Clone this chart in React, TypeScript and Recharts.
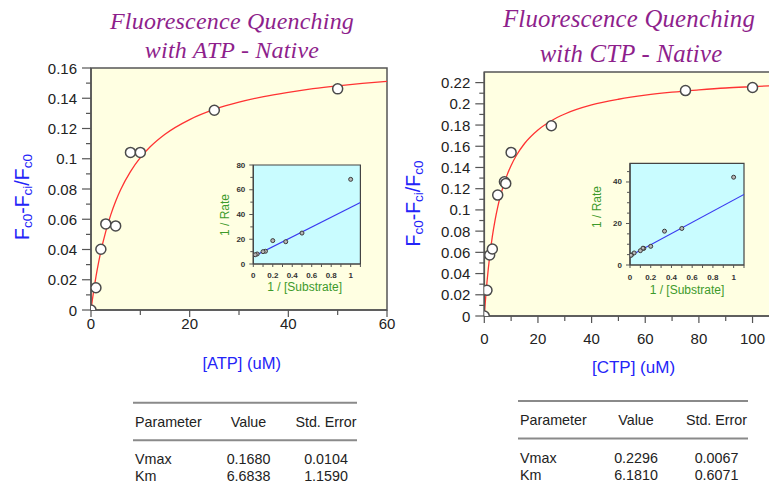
import React from 'react';
import { ComposedChart, Line, Scatter, XAxis, YAxis, CartesianGrid, ReferenceArea } from 'recharts';

// ---------- data: ATP ----------
const atpConc = [0, 1, 2, 3, 5, 8, 10, 25, 50];
const atpQuench = [0, 0.0147, 0.0402, 0.0569, 0.0556, 0.1042, 0.1042, 0.1321, 0.1462];
const atpFitX = [0, 0.25, 0.5, 1, 1.5, 2, 3, 4, 5, 6, 8, 10, 12, 15, 20, 25, 30, 35, 40, 45, 50, 55, 60];
const atpFitY = [0, 0.0061, 0.0117, 0.0219, 0.0308, 0.0387, 0.052, 0.0629, 0.0719, 0.0795, 0.0915, 0.1007, 0.1079, 0.1162, 0.1259, 0.1326, 0.1374, 0.1411, 0.1439, 0.1463, 0.1482, 0.1498, 0.1512];
const atpInvS = [1, 0.5, 0.333, 0.2, 0.125, 0.1, 0.04, 0.02];
const atpInvV = [68.4, 25.0, 18.0, 18.9, 10.3, 10.0, 8.1, 7.5];
const atpLbX = [0, 1.1];
const atpLbY = [6.0, 49.7];

// ---------- data: CTP ----------
const ctpConc = [0, 1, 2, 3, 5, 7.5, 8, 10, 25, 75, 100];
const ctpQuench = [0, 0.0242, 0.0575, 0.0631, 0.114, 0.1265, 0.125, 0.1542, 0.1793, 0.2125, 0.2154];
const ctpFitX = [0, 0.25, 0.5, 1, 1.5, 2, 3, 4, 5, 6, 8, 10, 12, 15, 20, 25, 30, 40, 50, 60, 70, 80, 90, 100, 108];
const ctpFitY = [0, 0.0089, 0.0172, 0.032, 0.0448, 0.0561, 0.075, 0.0902, 0.1027, 0.1131, 0.1295, 0.1419, 0.1515, 0.1626, 0.1754, 0.1841, 0.1904, 0.1989, 0.2043, 0.2082, 0.211, 0.2131, 0.2149, 0.2162, 0.2172];
const ctpInvS = [1, 0.5, 0.333, 0.2, 0.133, 0.125, 0.1, 0.04, 0.0133, 0.01];
const ctpInvV = [42.3, 17.6, 16.3, 9.0, 8.0, 8.1, 6.9, 5.8, 4.8, 4.7];
const ctpLbX = [0, 1.1];
const ctpLbY = [4.4, 34.0];

// ---------- ticks ----------
const atpYTicks = [0, 0.01, 0.02, 0.03, 0.04, 0.05, 0.06, 0.07, 0.08, 0.09, 0.1, 0.11, 0.12, 0.13, 0.14, 0.15, 0.16];
const atpXTicks = [0, 10, 20, 30, 40, 50, 60];
const ctpYTicks = [0, 0.01, 0.02, 0.03, 0.04, 0.05, 0.06, 0.07, 0.08, 0.09, 0.1, 0.11, 0.12, 0.13, 0.14, 0.15, 0.16, 0.17, 0.18, 0.19, 0.2, 0.21, 0.22];
const ctpXTicks = [0, 10, 20, 30, 40, 50, 60, 70, 80, 90, 100];
const insetXTicks = [0, 0.1, 0.2, 0.3, 0.4, 0.5, 0.6, 0.7, 0.8, 0.9, 1, 1.1];
const atpInsetYTicks = [0, 10, 20, 30, 40, 50, 60, 70, 80];
const ctpInsetYTicks = [0, 5, 10, 15, 20, 25, 30, 35, 40, 45];

// ---------- table ----------
const tableHeader = ['Parameter', 'Value', 'Std. Error'];
const atpParams = ['Vmax', 'Km'];
const atpValues = ['0.1680', '6.6838'];
const atpErrors = ['0.0104', '1.1590'];
const ctpParams = ['Vmax', 'Km'];
const ctpValues = ['0.2296', '6.1810'];
const ctpErrors = ['0.0067', '0.6071'];

const zip = (xs: number[], ys: number[]) => xs.map((x, i) => ({ x, y: ys[i] }));

const SANS = "Arial, 'Liberation Sans', Helvetica, sans-serif";
const SERIF = "'Times New Roman', 'Liberation Serif', serif";
const AXIS = '#555';
const YELLOW = '#FFFFE2';
const CYAN = '#C9FCFF';
const BLUE = '#2424F8';
const GREEN = '#3D9A2B';
const PURPLE = '#8E1F8C';
const TXT = '#222';

type TickCfg = { step: number; major: number; minor: number; gap: number; size: number; bold?: boolean; digits: number; sw: number; color: string };

const isMajorVal = (v: number, step: number) => Math.abs(v / step - Math.round(v / step)) < 1e-6;
const fmt = (v: number, d: number) => (v === 0 ? '0' : String(parseFloat(v.toFixed(d))));

const makeYTick = (c: TickCfg) => (p: any) => {
  const v = p.payload.value;
  const major = isMajorVal(v, c.step);
  const len = major ? c.major : c.minor;
  return (
    <g>
      <line x1={p.x - len} x2={p.x} y1={p.y} y2={p.y} stroke={AXIS} strokeWidth={c.sw} />
      {major && (
        <text x={p.x - c.major - c.gap} y={p.y} textAnchor="end" dominantBaseline="central" fontFamily={SANS} fontSize={c.size} fontWeight={c.bold ? 'bold' : 'normal'} fill={c.color}>
          {fmt(v, c.digits)}
        </text>
      )}
    </g>
  );
};

const makeXTick = (c: TickCfg & { offset: number }) => (p: any) => {
  const v = p.payload.value;
  const major = isMajorVal(v, c.step);
  const len = major ? c.major : c.minor;
  return (
    <g>
      <line x1={p.x} x2={p.x} y1={p.y} y2={p.y + len} stroke={AXIS} strokeWidth={c.sw} />
      {major && (
        <text x={p.x} y={p.y + c.offset} textAnchor="middle" dominantBaseline="central" fontFamily={SANS} fontSize={c.size} fontWeight={c.bold ? 'bold' : 'normal'} fill={c.color}>
          {fmt(v, c.digits)}
        </text>
      )}
    </g>
  );
};

const bigDot = (p: any) => <circle cx={p.cx} cy={p.cy} r={5} fill="#fff" stroke="#4a4a4a" strokeWidth={1.5} />;
const smallDot = (p: any) => <circle cx={p.cx} cy={p.cy} r={2} fill="#b8b8b8" stroke="#3a3a3a" strokeWidth={1} />;

type MainProps = {
  w: number; h: number; margin: any; yW: number; xH: number;
  xDomain: number[]; yDomain: number[]; xTicks: number[]; yTicks: number[];
  fit: { x: number; y: number }[]; pts: { x: number; y: number }[];
  xOffset: number;
};

const MainChart = (m: MainProps) => (
  <ComposedChart width={m.w} height={m.h} margin={m.margin}>
    <CartesianGrid horizontal={false} vertical={false} fill={YELLOW} fillOpacity={1} />
    <XAxis dataKey="x" type="number" domain={m.xDomain} ticks={m.xTicks} interval={0} allowDataOverflow height={m.xH}
      tickSize={0} tickMargin={0} tickLine={false} axisLine={{ stroke: AXIS, strokeWidth: 1.5 }}
      tick={makeXTick({ step: 20, major: 7, minor: 5, gap: 0, size: 15, digits: 0, sw: 1.2, color: TXT, offset: m.xOffset })} />
    <YAxis dataKey="y" type="number" domain={m.yDomain} ticks={m.yTicks} interval={0} allowDataOverflow width={m.yW}
      tickSize={0} tickMargin={0} tickLine={false} axisLine={{ stroke: AXIS, strokeWidth: 1.5 }}
      tick={makeYTick({ step: 0.02, major: 9, minor: 5, gap: 5, size: 15, digits: 2, sw: 1.2, color: TXT })} />
    <ReferenceArea x1={m.xDomain[0]} x2={m.xDomain[1]} y1={m.yDomain[0]} y2={m.yDomain[1]} fill="none" stroke={AXIS} strokeWidth={1.5} ifOverflow="visible" />
    <Line data={m.fit} dataKey="y" type="monotone" stroke="#FF3333" strokeWidth={1.3} dot={false} isAnimationActive={false} />
    <Scatter data={m.pts} dataKey="y" shape={bigDot} isAnimationActive={false} />
  </ComposedChart>
);

type InsetProps = {
  w: number; h: number; margin: any; yW: number; xH: number;
  yDomain: number[]; yTicks: number[];
  line: { x: number; y: number }[]; pts: { x: number; y: number }[];
  xOffset: number;
};

const InsetChart = (m: InsetProps) => (
  <ComposedChart width={m.w} height={m.h} margin={m.margin}>
    <CartesianGrid horizontal={false} vertical={false} fill={CYAN} fillOpacity={1} />
    <XAxis dataKey="x" type="number" domain={[0, 1.1]} ticks={insetXTicks} interval={0} allowDataOverflow height={m.xH}
      tickSize={0} tickMargin={0} tickLine={false} axisLine={{ stroke: '#444', strokeWidth: 1.2 }}
      tick={makeXTick({ step: 0.2, major: 3, minor: 3, gap: 0, size: 8, bold: true, digits: 1, sw: 1, color: '#333', offset: m.xOffset })} />
    <YAxis dataKey="y" type="number" domain={m.yDomain} ticks={m.yTicks} interval={0} allowDataOverflow width={m.yW}
      tickSize={0} tickMargin={0} tickLine={false} axisLine={{ stroke: '#444', strokeWidth: 1.2 }}
      tick={makeYTick({ step: 20, major: 4, minor: 3, gap: 4, size: 8, bold: true, digits: 0, sw: 1, color: '#333' })} />
    <ReferenceArea x1={0} x2={1.1} y1={m.yDomain[0]} y2={m.yDomain[1]} fill="none" stroke="#444" strokeWidth={1.2} ifOverflow="visible" />
    <Line data={m.line} dataKey="y" type="linear" stroke="#3A3AF0" strokeWidth={1.2} dot={false} isAnimationActive={false} />
    <Scatter data={m.pts} dataKey="y" shape={smallDot} isAnimationActive={false} />
  </ComposedChart>
);

const YLabel = ({ x, y }: { x: number; y: number }) => (
  <text x={x} y={y} transform={`rotate(-90 ${x} ${y})`} textAnchor="middle" dominantBaseline="central" fontFamily={SANS} fontSize={19.5} fill={BLUE}>
    F<tspan fontSize={13.5} dy={5}>c0</tspan>
    <tspan dy={-5}>-F</tspan>
    <tspan fontSize={13.5} dy={5}>ci</tspan>
    <tspan dy={-5}>/F</tspan>
    <tspan fontSize={13.5} dy={5}>c0</tspan>
  </text>
);

type TableProps = { left: number; right: number; top: number; cols: number[]; params: string[]; values: string[]; errors: string[]; };
const ParamTable = (t: TableProps) => (
  <g fontFamily={SANS} fontSize={14.3} fill={TXT}>
    <line x1={t.left} x2={t.right} y1={t.top} y2={t.top} stroke="#8a8a8a" strokeWidth={2} />
    <text x={t.left + 2} y={t.top + 19} dominantBaseline="central">{tableHeader[0]}</text>
    <text x={t.cols[0]} y={t.top + 19} textAnchor="middle" dominantBaseline="central">{tableHeader[1]}</text>
    <text x={t.cols[1]} y={t.top + 19} textAnchor="middle" dominantBaseline="central">{tableHeader[2]}</text>
    <line x1={t.left} x2={t.right} y1={t.top + 37.5} y2={t.top + 37.5} stroke="#8a8a8a" strokeWidth={2} />
    {t.params.map((p, i) => (
      <g key={p}>
        <text x={t.left + 2} y={t.top + 56.5 + i * 17} dominantBaseline="central">{p}</text>
        <text x={t.cols[0]} y={t.top + 56.5 + i * 17} textAnchor="middle" dominantBaseline="central">{t.values[i]}</text>
        <text x={t.cols[1]} y={t.top + 56.5 + i * 17} textAnchor="middle" dominantBaseline="central">{t.errors[i]}</text>
      </g>
    ))}
  </g>
);

const abs = (left: number, top: number): React.CSSProperties => ({ position: 'absolute', left, top });

export default function App() {
  return (
    <div style={{ position: 'absolute', left: 0, top: 0, width: 769, height: 494, overflow: 'hidden', background: '#fff' }}>
      <div style={abs(0, 0)}>
        <MainChart w={400} h={345} margin={{ top: 68, right: 13, bottom: 0, left: 0 }} yW={91} xH={35}
          xDomain={[0, 60]} yDomain={[0, 0.16]} xTicks={atpXTicks} yTicks={atpYTicks}
          fit={zip(atpFitX, atpFitY)} pts={zip(atpConc, atpQuench)} xOffset={13} />
      </div>
      <div style={abs(395, 0)}>
        <MainChart w={380} h={355} margin={{ top: 72, right: 1, bottom: 0, left: 0 }} yW={89.3} xH={39}
          xDomain={[0, 108]} yDomain={[0, 0.23]} xTicks={ctpXTicks} yTicks={ctpYTicks}
          fit={zip(ctpFitX, ctpFitY)} pts={zip(ctpConc, ctpQuench)} xOffset={22} />
      </div>
      <div style={abs(215, 155)}>
        <InsetChart w={150} h={140} margin={{ top: 10, right: 4.6, bottom: 0, left: 0 }} yW={38.3} xH={31}
          yDomain={[0, 80]} yTicks={atpInsetYTicks} line={zip(atpLbX, atpLbY)} pts={zip(atpInvS, atpInvV)} xOffset={11} />
      </div>
      <div style={abs(585, 150)}>
        <InsetChart w={165} h={150} margin={{ top: 13.3, right: 6, bottom: 0, left: 0 }} yW={45} xH={35}
          yDomain={[0, 49]} yTicks={ctpInsetYTicks} line={zip(ctpLbX, ctpLbY)} pts={zip(ctpInvS, ctpInvV)} xOffset={12} />
      </div>
      <svg width={769} height={494} style={{ position: 'absolute', left: 0, top: 0, pointerEvents: 'none' }}>
        <g fontFamily={SERIF} fontStyle="italic" fill={PURPLE} textAnchor="middle">
          <text x={232} y={29} fontSize={24} letterSpacing={0.2}>Fluorescence Quenching</text>
          <text x={232} y={58} fontSize={24} letterSpacing={0.2}>with ATP - Native</text>
          <text x={629} y={27} fontSize={24.8} letterSpacing={0.2}>Fluorescence Quenching</text>
          <text x={631} y={62} fontSize={24.8} letterSpacing={0.2}>with CTP - Native</text>
        </g>
        <YLabel x={22} y={197} />
        <YLabel x={413} y={203.5} />
        <text x={241.7} y={363} textAnchor="middle" dominantBaseline="central" fontFamily={SANS} fontSize={16.5} fill={BLUE}>[ATP] (uM)</text>
        <text x={633.5} y={367} textAnchor="middle" dominantBaseline="central" fontFamily={SANS} fontSize={17} fill={BLUE}>[CTP] (uM)</text>
        <g fontFamily={SANS} fontSize={12} fill={GREEN} textAnchor="middle" dominantBaseline="central">
          <text x={225} y={215} transform="rotate(-90 225 215)">1 / Rate</text>
          <text x={304.7} y={286.7}>1 / [Substrate]</text>
          <text x={597} y={207} transform="rotate(-90 597 207)">1 / Rate</text>
          <text x={687} y={290}>1 / [Substrate]</text>
        </g>
        <ParamTable left={133} right={357} top={402.7} cols={[248.5, 326]} params={atpParams} values={atpValues} errors={atpErrors} />
        <ParamTable left={518} right={748} top={401} cols={[636, 716.5]} params={ctpParams} values={ctpValues} errors={ctpErrors} />
      </svg>
    </div>
  );
}
